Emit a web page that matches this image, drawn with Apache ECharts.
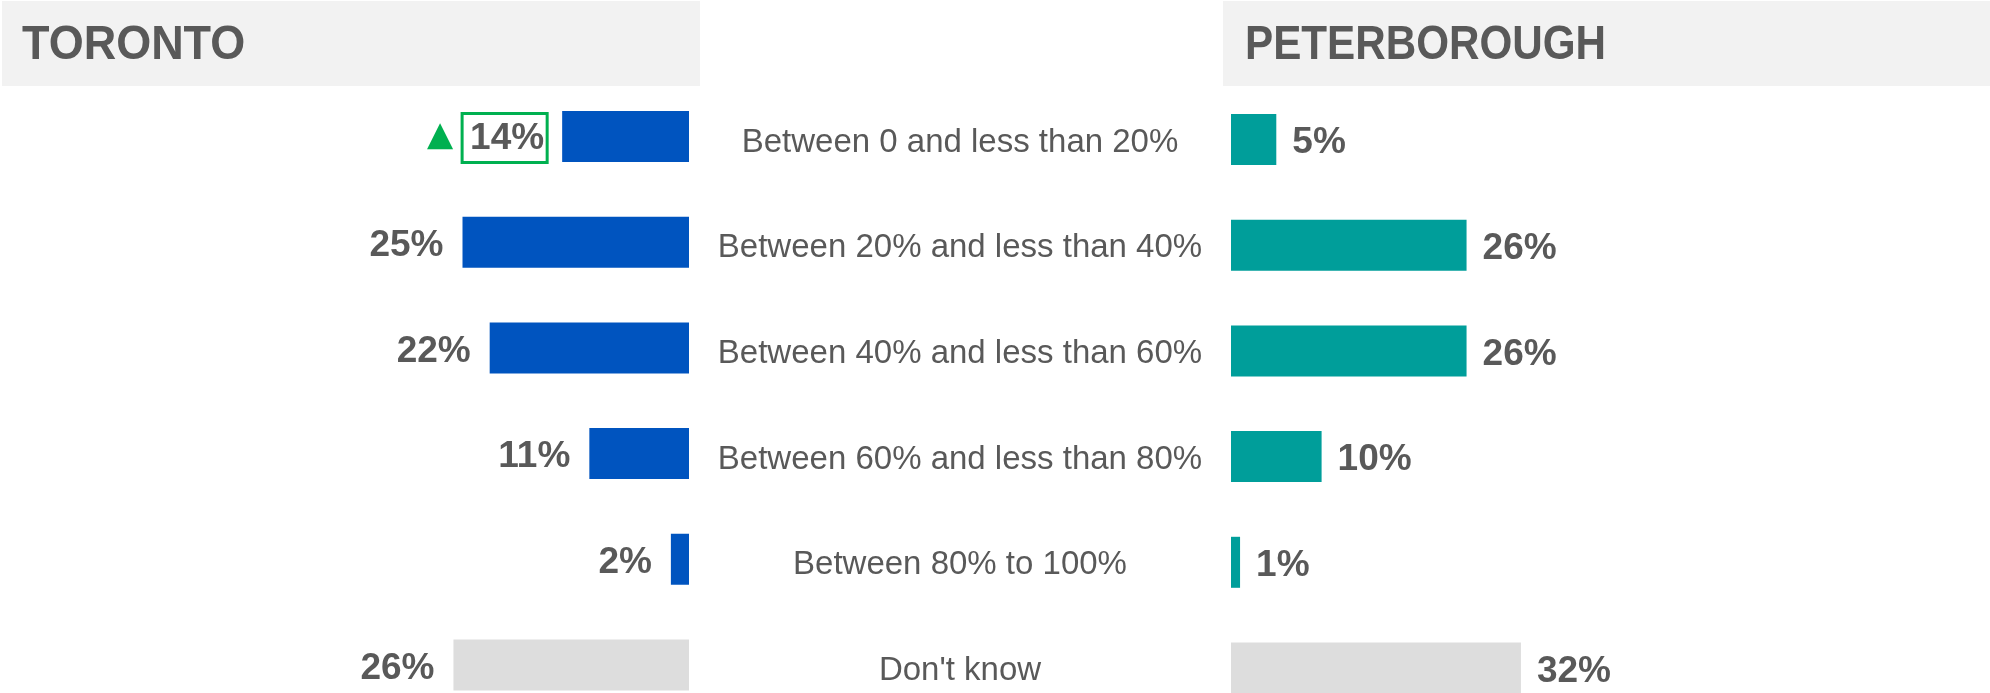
<!DOCTYPE html>
<html>
<head>
<meta charset="utf-8">
<style>
  html, body { margin: 0; padding: 0; background: #ffffff; }
  #chart { width: 1990px; height: 693px; }
</style>
<script src="https://cdn.jsdelivr.net/npm/echarts@6/dist/echarts.min.js"></script>
</head>
<body>
<div id="chart"></div>
<script>
// Share of responses per range, by city (percent)
const categories = [
  'Between 0 and less than 20%',
  'Between 20% and less than 40%',
  'Between 40% and less than 60%',
  'Between 60% and less than 80%',
  'Between 80% to 100%',
  "Don't know"
];
const torontoValues = [14, 25, 22, 11, 2, 26];
const peterboroughValues = [5, 26, 26, 10, 1, 32];
const regionTitles = ['TORONTO', 'PETERBOROUGH'];
// Toronto rows flagged as significantly higher
const torontoFlagged = [true, false, false, false, false, false];

const TEXT = '#595959';
const BLUE = '#0054BF';
const TEAL = '#009E9A';
const GREY = '#DDDDDD';
const GREEN = '#00B050';
const PX_PER_PCT = 9.06;
const AXIS_MAX = 40;
const AXIS_W = PX_PER_PCT * AXIS_MAX;
const ROW_H = 105.7;

function barData(values, color, flagged) {
  return values.map((v, i) => {
    const isDk = i === values.length - 1;
    const item = { value: v, itemStyle: { color: isDk ? GREY : color } };
    if (flagged && flagged[i]) {
      item.label = {
        formatter: '{tri|\u25B2}{box|' + v + '%}',
        distance: 15,
        padding: [3, 0, 0, 0]
      };
    }
    return item;
  });
}

const labelBase = {
  show: true,
  color: TEXT,
  fontFamily: 'Liberation Sans, Arial, sans-serif',
  fontWeight: 'bold',
  fontSize: 37,
  formatter: '{c}%',
  padding: [7, 0, 0, 0],
  rich: {
    tri: {
      fontFamily: 'DejaVu Sans',
      fontSize: 34,
      color: GREEN,
      padding: [0, 9, 4, 0]
    },
    box: {
      fontFamily: 'Liberation Sans, Arial, sans-serif',
      fontWeight: 'bold',
      fontSize: 37,
      color: TEXT,
      borderColor: GREEN,
      borderWidth: 3,
      padding: [7, 3, 5, 8]
    }
  }
};

const chart = echarts.init(document.getElementById('chart'), null, { renderer: 'canvas' });

chart.setOption({
  animation: false,
  backgroundColor: '#ffffff',
  graphic: [
    { type: 'rect', shape: { x: 2, y: 1, width: 698, height: 85 }, style: { fill: '#F2F2F2' }, z: 0 },
    { type: 'rect', shape: { x: 1223, y: 1, width: 767, height: 85 }, style: { fill: '#F2F2F2' }, z: 0 },
    { type: 'text', x: 22, y: 45, scaleX: 0.918, style: { text: regionTitles[0], fill: TEXT, font: 'bold 49px "Liberation Sans", Arial, sans-serif', textVerticalAlign: 'middle' }, z: 1 },
    { type: 'text', x: 1245, y: 45, scaleX: 0.861, style: { text: regionTitles[1], fill: TEXT, font: 'bold 49px "Liberation Sans", Arial, sans-serif', textVerticalAlign: 'middle' }, z: 1 }
  ],
  grid: [
    { left: 689 - AXIS_W, width: AXIS_W, top: 136.5 - ROW_H / 2, height: ROW_H * 6, outerBoundsMode: 'none', containLabel: false },
    { left: 1231, width: AXIS_W, top: 139.5 - ROW_H / 2, height: ROW_H * 6, outerBoundsMode: 'none', containLabel: false }
  ],
  xAxis: [
    { gridIndex: 0, type: 'value', min: 0, max: AXIS_MAX, inverse: true, show: false },
    { gridIndex: 1, type: 'value', min: 0, max: AXIS_MAX, show: false }
  ],
  yAxis: [
    {
      gridIndex: 0, type: 'category', data: categories, inverse: true, position: 'right',
      axisLine: { show: false }, axisTick: { show: false }, splitLine: { show: false },
      axisLabel: {
        show: true, align: 'center', margin: 271,
        formatter: (v) => '{cat|' + v + '}',
        rich: {
          cat: {
            color: TEXT, fontFamily: 'Liberation Sans, Arial, sans-serif', fontSize: 33,
            padding: [12, 0, 0, 0]
          }
        }
      }
    },
    {
      gridIndex: 1, type: 'category', data: categories, inverse: true,
      axisLine: { show: false }, axisTick: { show: false }, splitLine: { show: false },
      axisLabel: { show: false }
    }
  ],
  series: [
    {
      name: regionTitles[0], type: 'bar', xAxisIndex: 0, yAxisIndex: 0,
      barWidth: 51,
      data: barData(torontoValues, BLUE, torontoFlagged),
      label: Object.assign({}, labelBase, { position: 'left', distance: 19 })
    },
    {
      name: regionTitles[1], type: 'bar', xAxisIndex: 1, yAxisIndex: 1,
      barWidth: 51,
      data: barData(peterboroughValues, TEAL, null),
      label: Object.assign({}, labelBase, { position: 'right', distance: 16 })
    }
  ]
});
</script>
</body>
</html>
